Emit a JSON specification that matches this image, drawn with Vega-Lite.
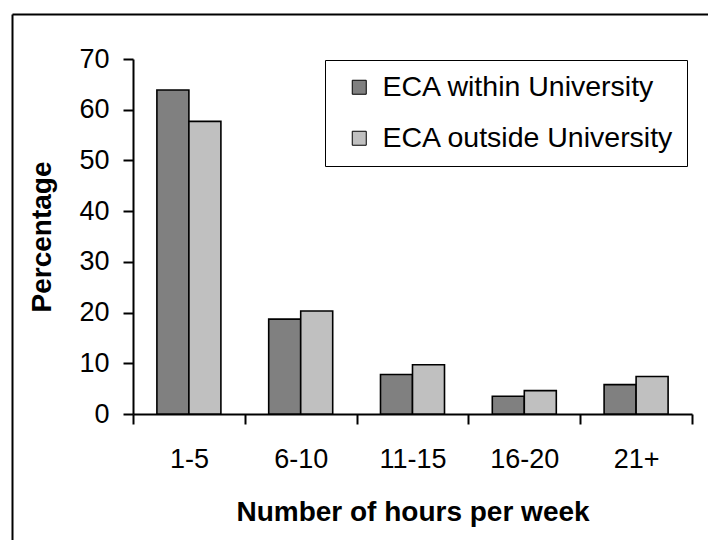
{
  "$schema": "https://vega.github.io/schema/vega-lite/v6.json",
  "width": 696,
  "height": 526,
  "padding": {"left": 12, "top": 14, "right": 0, "bottom": 0},
  "autosize": {"type": "none"},
  "background": "white",
  "view": {"stroke": null, "fill": null},
  "config": {
    "font": "Liberation Sans",
    "view": {"stroke": null},
    "axis": {
      "labelFont": "Liberation Sans",
      "titleFont": "Liberation Sans",
      "labelColor": "black",
      "titleColor": "black",
      "titleFontWeight": "bold",
      "domainColor": "black",
      "tickColor": "black",
      "domainWidth": 2,
      "tickWidth": 2,
      "tickSize": 10,
      "grid": false
    }
  },
  "data": {
    "values": [
      {"hours": "1-5", "location": "ECA within University", "percentage": 63.9},
      {"hours": "1-5", "location": "ECA outside University", "percentage": 57.7},
      {"hours": "6-10", "location": "ECA within University", "percentage": 18.7},
      {"hours": "6-10", "location": "ECA outside University", "percentage": 20.3},
      {"hours": "11-15", "location": "ECA within University", "percentage": 7.8},
      {"hours": "11-15", "location": "ECA outside University", "percentage": 9.7},
      {"hours": "16-20", "location": "ECA within University", "percentage": 3.5},
      {"hours": "16-20", "location": "ECA outside University", "percentage": 4.6},
      {"hours": "21+", "location": "ECA within University", "percentage": 5.8},
      {"hours": "21+", "location": "ECA outside University", "percentage": 7.4}
    ]
  },
  "layer": [
    {
      "mark": {"type": "bar", "stroke": "black", "strokeWidth": 1.6},
      "encoding": {
        "x": {
          "field": "hours",
          "type": "nominal",
          "sort": ["1-5", "6-10", "11-15", "16-20", "21+"],
          "scale": {"range": [121, 680], "paddingInner": 0.4275, "paddingOuter": 0.21375},
          "axis": {
            "orient": "bottom",
            "title": "Number of hours per week",
            "labelAngle": 0,
            "bandPosition": 1.7468,
            "tickOffset": -23.9,
            "labelOffset": 23.9,
            "tickExtra": true,
            "labelFontSize": 27,
            "labelPadding": 22,
            "titleFontSize": 28,
            "titlePadding": 26,
            "offset": -126
          }
        },
        "xOffset": {
          "field": "location",
          "type": "nominal",
          "sort": ["ECA within University", "ECA outside University"],
          "scale": {"paddingInner": 0, "paddingOuter": 0}
        },
        "y": {
          "field": "percentage",
          "type": "quantitative",
          "scale": {"domain": [0, 70], "range": [400, 45], "nice": false},
          "axis": {
            "orient": "left",
            "title": "Percentage",
            "values": [0, 10, 20, 30, 40, 50, 60, 70],
            "labelFontSize": 27,
            "labelPadding": 14,
            "titleFontSize": 28,
            "titlePadding": 22,
            "offset": -121
          }
        },
        "color": {
          "field": "location",
          "type": "nominal",
          "sort": ["ECA within University", "ECA outside University"],
          "scale": {"range": ["#808080", "#C0C0C0"]},
          "legend": {
            "orient": "none",
            "legendX": 313,
            "legendY": 46,
            "title": null,
            "strokeColor": "black",
            "fillColor": "white",
            "padding": 13,
            "symbolType": "square",
            "symbolSize": 196,
            "symbolStrokeColor": "black",
            "symbolStrokeWidth": 1,
            "symbolOffset": 7,
            "labelFont": "Liberation Sans",
            "labelFontSize": 28.5,
            "labelLimit": 500,
            "labelColor": "black",
            "labelOffset": 9,
            "rowPadding": 22
          }
        }
      }
    },
    {
      "mark": {"type": "point", "opacity": 0},
      "encoding": {
        "x": {
          "field": "percentage",
          "type": "quantitative",
          "scale": {"domain": [0, 100], "range": [0, 696], "nice": false, "zero": false},
          "axis": {"orient": "top", "title": null, "labels": false, "ticks": false, "domainWidth": 2, "domainColor": "black", "offset": 0}
        },
        "y": {
          "field": "percentage",
          "type": "quantitative",
          "scale": {"domain": [0, 100], "range": [526, 0], "nice": false, "zero": false},
          "axis": {"orient": "left", "title": null, "labels": false, "ticks": false, "domainWidth": 2, "domainColor": "black", "offset": 0}
        }
      }
    }
  ],
  "resolve": {"scale": {"x": "independent", "y": "independent"}, "axis": {"x": "independent", "y": "independent"}}
}
